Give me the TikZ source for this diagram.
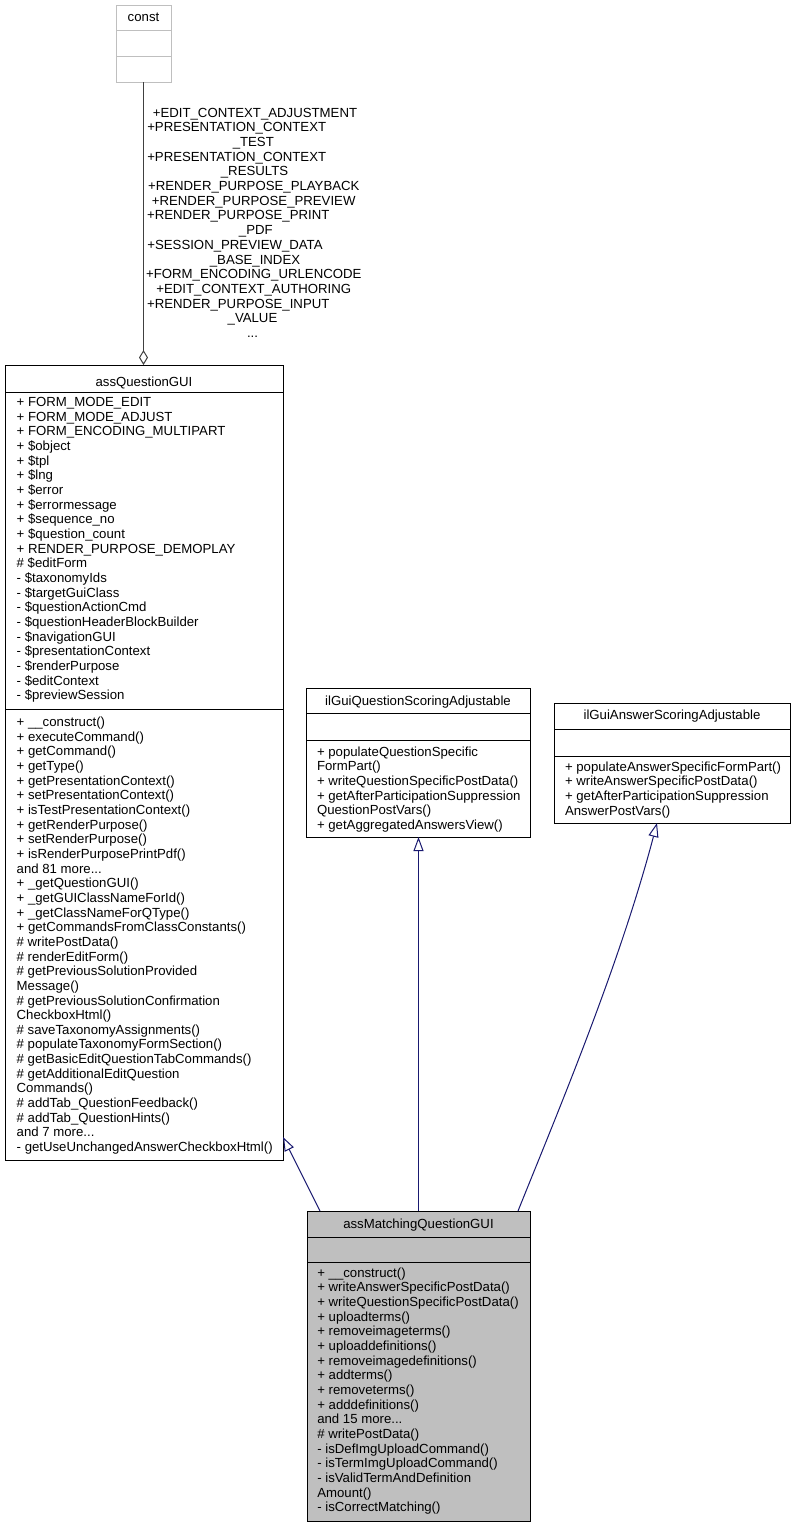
\documentclass[tikz,border=0pt]{standalone}
\usepackage{fontspec}
\setmainfont{Liberation Sans}
\usetikzlibrary{arrows.meta}
\definecolor{edgeblue}{HTML}{191970}
\definecolor{grey75}{HTML}{BFBFBF}
\definecolor{grey25}{HTML}{404040}
\newcommand\mydots{...}
\tikzset{
  cls/.style={draw=black, line width=1pt, fill=white, inner sep=0pt, outer sep=0pt, anchor=north west},
  txt/.style={font=\fontsize{13.2}{14.66}\selectfont, inner sep=0pt, outer sep=0pt, align=left, anchor=north west, text=black},
  ttl/.style={font=\fontsize{13.2}{14.66}\selectfont, inner sep=0pt, outer sep=0pt, anchor=base, text=black},
  sep/.style={line width=1pt},
  inherit/.style={draw=edgeblue, line width=1pt, -{Triangle[open, length=14pt, width=10pt, line width=1pt]}},
  usage/.style={draw=grey25, line width=1pt, -{Diamond[open, length=15pt, width=9pt, line width=1pt]}},
}
\begin{document}
\begin{tikzpicture}[x=1pt, y=-1pt]
\useasboundingbox[fill=white] (0,0) rectangle (795,1528);

% ---------- const ----------
\node[cls, draw=grey75, minimum width=55pt, minimum height=76pt] (const) at (116,6) {};
\draw[sep, grey75] (116,31) -- (171,31);
\draw[sep, grey75] (116,57) -- (171,57);
\node[ttl] (constT) at (143.5,22) {const};

% ---------- assQuestionGUI ----------
\node[cls, minimum width=278pt, minimum height=795pt] (qgui) at (5,365) {};
\draw[sep] (5,392) -- (283,392);
\draw[sep] (5,709) -- (283,709);
\node[ttl] (qguiT) at (144,386.3) {assQuestionGUI};
\node[txt] (qguiA) at (16.7,396.3) {\strut+ FORM\_MODE\_EDIT\\
+ FORM\_MODE\_ADJUST\\
+ FORM\_ENCODING\_MULTIPART\\
+ \$object\\
+ \$tpl\\
+ \$lng\\
+ \$error\\
+ \$errormessage\\
+ \$sequence\_no\\
+ \$question\_count\\
+ RENDER\_PURPOSE\_DEMOPLAY\\
\# \$editForm\\
- \$taxonomyIds\\
- \$targetGuiClass\\
- \$questionActionCmd\\
- \$questionHeaderBlockBuilder\\
- \$navigationGUI\\
- \$presentationContext\\
- \$renderPurpose\\
- \$editContext\\
- \$previewSession};
\node[txt] (qguiM) at (16.7,716.2) {\strut+ \_\_construct()\\
+ executeCommand()\\
+ getCommand()\\
+ getType()\\
+ getPresentationContext()\\
+ setPresentationContext()\\
+ isTestPresentationContext()\\
+ getRenderPurpose()\\
+ setRenderPurpose()\\
+ isRenderPurposePrintPdf()\\
and 81 more...\\
+ \_getQuestionGUI()\\
+ \_getGUIClassNameForId()\\
+ \_getClassNameForQType()\\
+ getCommandsFromClassConstants()\\
\# writePostData()\\
\# renderEditForm()\\
\# getPreviousSolutionProvided\\
Message()\\
\# getPreviousSolutionConfirmation\\
CheckboxHtml()\\
\# saveTaxonomyAssignments()\\
\# populateTaxonomyFormSection()\\
\# getBasicEditQuestionTabCommands()\\
\# getAdditionalEditQuestion\\
Commands()\\
\# addTab\_QuestionFeedback()\\
\# addTab\_QuestionHints()\\
and 7 more...\\
- getUseUnchangedAnswerCheckboxHtml()};

% ---------- ilGuiQuestionScoringAdjustable ----------
\node[cls, minimum width=224pt, minimum height=149pt] (qsa) at (306,688) {};
\draw[sep] (306,713) -- (530,713);
\draw[sep] (306,740) -- (530,740);
\node[ttl] (qsaT) at (418,705) {ilGuiQuestionScoringAdjustable};
\node[txt] (qsaM) at (317,745.9) {\strut+ populateQuestionSpecific\\
FormPart()\\
+ writeQuestionSpecificPostData()\\
+ getAfterParticipationSuppression\\
QuestionPostVars()\\
+ getAggregatedAnswersView()};

% ---------- ilGuiAnswerScoringAdjustable ----------
\node[cls, minimum width=236pt, minimum height=120pt] (asa) at (554,703) {};
\draw[sep] (554,729) -- (790,729);
\draw[sep] (554,756) -- (790,756);
\node[ttl] (asaT) at (672,719.6) {ilGuiAnswerScoringAdjustable};
\node[txt] (asaM) at (565,761) {\strut+ populateAnswerSpecificFormPart()\\
+ writeAnswerSpecificPostData()\\
+ getAfterParticipationSuppression\\
AnswerPostVars()};

% ---------- assMatchingQuestionGUI ----------
\node[cls, fill=grey75, minimum width=223pt, minimum height=310.5pt] (match) at (307,1211) {};
\draw[sep] (307,1237) -- (530,1237);
\draw[sep] (307,1262) -- (530,1262);
\node[ttl] (matchT) at (418.5,1228.5) {assMatchingQuestionGUI};
\node[txt] (matchM) at (317.3,1267) {\strut+ \_\_construct()\\
+ writeAnswerSpecificPostData()\\
+ writeQuestionSpecificPostData()\\
+ uploadterms()\\
+ removeimageterms()\\
+ uploaddefinitions()\\
+ removeimagedefinitions()\\
+ addterms()\\
+ removeterms()\\
+ adddefinitions()\\
and 15 more...\\
\# writePostData()\\
- isDefImgUploadCommand()\\
- isTermImgUploadCommand()\\
- isValidTermAndDefinition\\
Amount()\\
- isCorrectMatching()};

% ---------- connectors ----------
\draw[usage] (const.south) -- (const.south |- qgui.north);
\foreach \cx/\t [count=\i from 0] in {
  255/+EDIT\_CONTEXT\_ADJUSTMENT,
  236.7/+PRESENTATION\_CONTEXT,
  253.3/\_TEST,
  236.7/+PRESENTATION\_CONTEXT,
  254.5/\_RESULTS,
  253.8/+RENDER\_PURPOSE\_PLAYBACK,
  253.7/+RENDER\_PURPOSE\_PREVIEW,
  238.3/+RENDER\_PURPOSE\_PRINT,
  255.8/\_PDF,
  235/+SESSION\_PREVIEW\_DATA,
  255/\_BASE\_INDEX,
  253.8/+FORM\_ENCODING\_URLENCODE,
  253.8/+EDIT\_CONTEXT\_AUTHORING,
  238.3/+RENDER\_PURPOSE\_INPUT,
  252.5/\_VALUE,
  252.5/\mydots}
  \node[ttl] (lbl\i) at (\cx, 117.3+14.67*\i) {\t};

\draw[inherit] ([xshift=13pt]match.north west) -- ([yshift=23pt]qgui.south east);
\draw[inherit] (match.north) -- (match.north |- qsa.south);
\draw[inherit] ([xshift=-12pt]match.north east) .. controls (557,1114) and (619.5,965.5) .. ([xshift=-15pt]asa.south);
\end{tikzpicture}
\end{document}
